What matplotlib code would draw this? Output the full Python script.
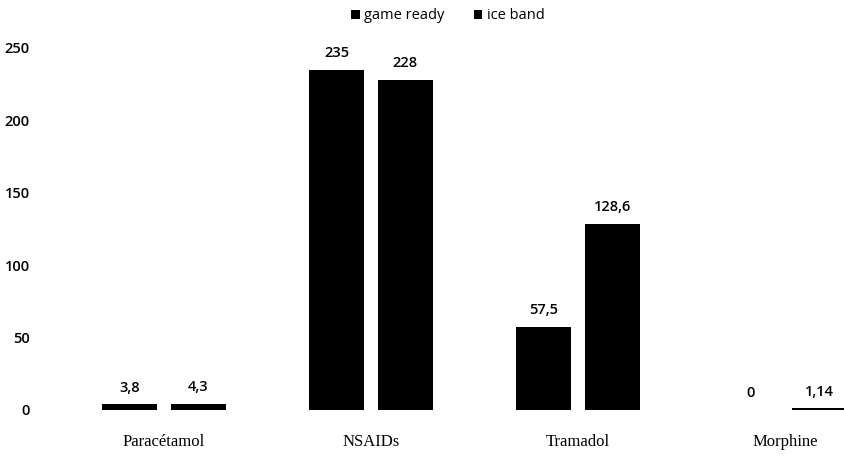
import numpy as np
import matplotlib.pyplot as plt

# donnees
categories = ['Paracétamol', 'NSAIDs', 'Tramadol', 'Morphine']
game_ready = [3.8, 235, 57.5, 0]
ice_band = [4.3, 228, 128.6, 1.14]
labels_game = ['3,8', '235', '57,5', '0']
labels_ice = ['4,3', '228', '128,6', '1,14']
yticks = [0, 50, 100, 150, 200, 250]

fig = plt.figure(figsize=(8.45, 4.63), dpi=100)
ax = fig.add_axes([0.0533, 0.1145, 0.9467, 0.782])

x = np.arange(len(categories))
larg = 0.266
dec = 0.165

b1 = ax.bar(x - dec, game_ready, larg, color='black', label='game ready')
b2 = ax.bar(x + dec, ice_band, larg, color='black', label='ice band')

#etiquettes des valeurs
for barras, txts in ((b1, labels_game), (b2, labels_ice)):
  for b, t in zip(barras, txts):
    ax.annotate(t, (b.get_x() + b.get_width() / 2, b.get_height()),
                xytext=(0, 7), textcoords='offset points', ha='center', va='bottom',
                fontsize=10.5, fontfamily='Open Sans', fontweight='semibold')

ax.set_xlim(-0.575, 3.29)
ax.set_ylim(0, 250)
ax.set_yticks(yticks)
ax.set_xticks(x)
ax.set_xticklabels(categories, fontfamily='Liberation Serif', fontsize=12)
for t in ax.get_yticklabels():
  t.set_fontfamily('Open Sans')
  t.set_fontweight('semibold')
  t.set_fontsize(10.5)
ax.tick_params(axis='x', length=0, pad=17)
ax.tick_params(axis='y', length=0, pad=11)
for s in ax.spines.values():
  s.set_visible(False)

fig.legend(loc='upper center', bbox_to_anchor=(0.53, 1.01), ncol=2, frameon=False,
           handlelength=0.6, handleheight=0.6, handletextpad=0.3, columnspacing=2.0,
           prop={'family': 'Open Sans', 'size': 10.5})

plt.savefig('out.png', dpi=100)
